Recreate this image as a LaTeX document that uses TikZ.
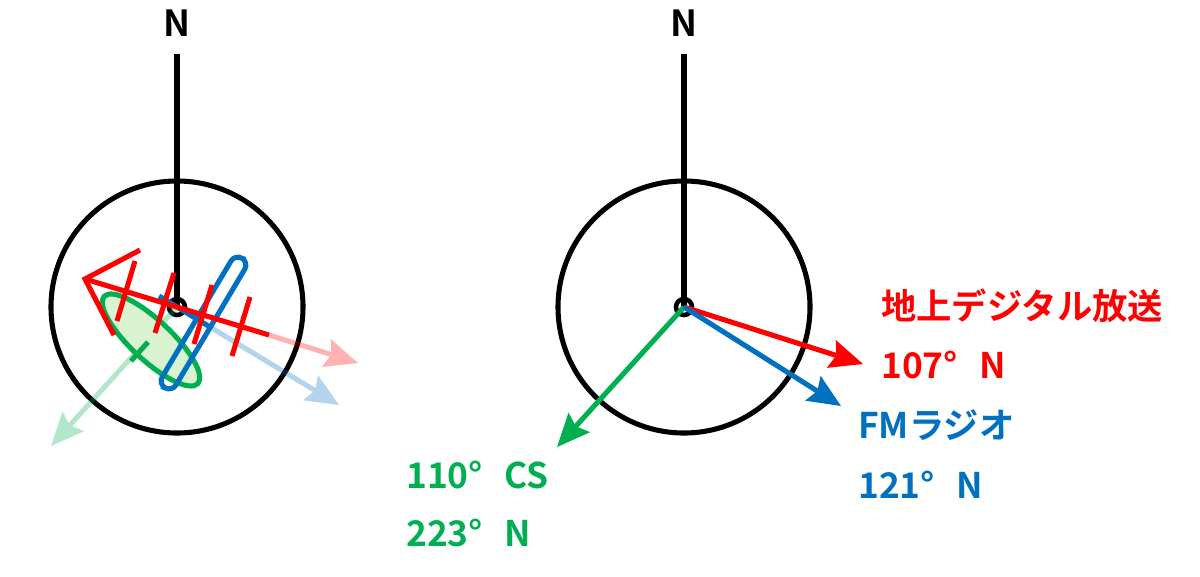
\documentclass[tikz,border=0pt]{standalone}
\usepackage{fontspec}
\setmainfont{Noto Sans CJK JP}[BoldFont={Noto Sans CJK JP Bold}]
\usetikzlibrary{arrows.meta,shapes.geometric}
\definecolor{tvred}{HTML}{FF0000}
\definecolor{fmblue}{HTML}{0070C0}
\definecolor{csgreen}{HTML}{00B050}
\definecolor{dishfill}{HTML}{D9F2D0}
\tikzset{
	dial/.style={circle,draw=black,line width=3.8pt,minimum size=189pt,inner sep=0pt},
	hub/.style={circle,draw=black,line width=3.4pt,minimum size=12pt,inner sep=0pt},
	north/.style={font=\fontsize{27}{27}\selectfont\bfseries,inner sep=0pt},
	label/.style={font=\fontsize{26.5}{27}\selectfont\bfseries,anchor=base west,inner sep=0pt},
	bearing/.style={line width=3.8pt,-{Stealth[length=25pt,width=22pt,inset=4pt,line width=0pt]}},
	element/.style={line width=3.8pt,tvred},
}
\newcommand{\anglegap}{\hspace{16pt}}
\begin{document}
\begin{tikzpicture}[x=0.75pt,y=-0.75pt]
	\useasboundingbox (0,0) rectangle (1200,576);
	\coordinate (leftTop) at (177,54);
	\coordinate (rightTop) at (684,54);
	\coordinate (tvTail) at (269,335);
	\coordinate (tvTipL) at (358,363);
	\coordinate (fmTipL) at (339,405);
	\coordinate (csTipL) at (51,446);
	\coordinate (tvTipR) at (863,364);
	\coordinate (fmTipR) at (841,406);
	\coordinate (csTipR) at (557,447);
	\coordinate (apex) at (85,279);
	\coordinate (armA) at (140,250);
	\coordinate (armB) at (114,335);
	\coordinate (csStubA) at (148,342);
	\coordinate (csStubB) at (131,361);
	\coordinate (fmBoomA) at (159,296);
	\coordinate (fmBoomB) at (210,327);

	\node[north] (leftN) at (177,23) {N};
	\node[north] (rightN) at (684,23) {N};
	\node[dial] (leftDial) at (177,307) {};
	\node[dial] (rightDial) at (684,307) {};
	\node[hub] (leftHub) at (177,307) {};
	\node[hub] (rightHub) at (684,307) {};
	\draw[line width=3.8pt] (leftTop) -- (leftHub.center);
	\draw[line width=3.8pt] (rightTop) -- (rightHub.center);

	\begin{scope}[transparency group,opacity=0.3]
		\draw[bearing,csgreen] (leftHub.center) -- (csTipL);
	\end{scope}
	\begin{scope}[transparency group,opacity=0.3]
		\draw[bearing,fmblue] (leftHub.center) -- (fmTipL);
	\end{scope}
	\begin{scope}[transparency group,opacity=0.3]
		\draw[bearing,tvred] (tvTail) -- (tvTipL);
	\end{scope}

	\node[ellipse,draw=csgreen,fill=dishfill,line width=3.8pt,minimum width=96pt,minimum height=30pt,inner sep=0pt,rotate=-43] (csDish) at (151,340) {};
	\draw[line width=3.8pt,csgreen] (csStubA) -- (csStubB);
	\node[rectangle,draw=fmblue,line width=3.8pt,minimum width=113pt,minimum height=12pt,inner sep=0pt,rounded corners=6pt,rotate=59.3] (fmLoop) at (203.5,323) {};
	\draw[line width=3.8pt,fmblue] (fmBoomA) -- (fmBoomB);

	\draw[element] (apex) -- (tvTail);
	\draw[element] (armA) -- (apex) -- (armB);
	\coordinate (elemA1) at (135,261);
	\coordinate (elemA2) at (117,321);
	\coordinate (elemB1) at (174,273);
	\coordinate (elemB2) at (155,333);
	\coordinate (elemC1) at (212,285);
	\coordinate (elemC2) at (194,344);
	\coordinate (elemD1) at (250,297);
	\coordinate (elemD2) at (232,356);
	\foreach \elem in {A,B,C,D}
		\draw[element] (elem\elem1) -- (elem\elem2);

	\draw[bearing,csgreen] (rightHub.center) -- (csTipR);
	\draw[bearing,tvred] (rightHub.center) -- (tvTipR);
	\draw[bearing,fmblue] (rightHub.center) -- (fmTipR);

	\node[label,tvred] (tvName) at (881,319) {地上デジタル放送};
	\node[label,tvred] (tvAngle) at (881,378) {107°\anglegap N};
	\node[label,fmblue] (fmName) at (858,438) {FMラジオ};
	\node[label,fmblue] (fmAngle) at (858,498) {121°\anglegap N};
	\node[label,csgreen] (csName) at (406,488) {110°\anglegap CS};
	\node[label,csgreen] (csAngle) at (406,546) {223°\anglegap N};
\end{tikzpicture}
\end{document}
